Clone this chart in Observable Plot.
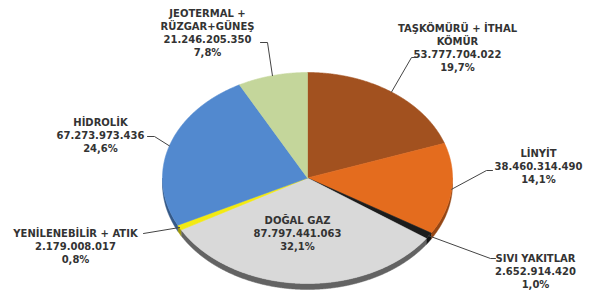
<!DOCTYPE html>
<html><head><meta charset="utf-8">
<script src="https://cdn.jsdelivr.net/npm/d3@7"></script>
<script src="https://cdn.jsdelivr.net/npm/@observablehq/plot@0.6"></script>
<style>body{margin:0;background:#fff}</style>
</head><body><div id="chart"></div>
<script>
// ---- data ----
const categories = ["TAŞKÖMÜRÜ + İTHAL\nKÖMÜR", "LİNYİT", "SIVI YAKITLAR", "DOĞAL GAZ", "YENİLENEBİLİR + ATIK", "HİDROLİK", "JEOTERMAL +\nRÜZGAR+GÜNEŞ"];
const values = [53777704022, 38460314490, 2652914420, 87797441063, 2179008017, 67273973436, 21246205350];
const colors = ["#A2511F", "#E46C1E", "#1c1c1c", "#D9D9D9", "#F3EA12", "#5289CF", "#C4D69B"];

// ---- layout (pixels) ----
const CX = 307, RX = 145, CY = 177.5, RY = 105.5, DEPTH = 6;
const labelPos = [[457,47],[538,165],[535,270],[297,232],[75,245],[100,134],[207,32]];
const elbows = [[[411,57],[414,57]], [[486,170],[492,170]], [[490,258],[495,258]], null, [[143,233]], [[154,136],[147,136]], [[267,42],[260,42]]];

const ux = px => (px - CX) / RX;
const uy = py => (CY - py) / RY;
const D = DEPTH / RY;

const loc = d3.formatLocale({decimal: ",", thousands: ".", grouping: [3], currency: ["", ""]});
const fmtN = loc.format(",d");
const total = d3.sum(values);
const fmtP = v => loc.format(".1f")(v / total * 100) + "%";

const arcs = d3.pie().sort(null).value(d => d)(values);
const step = 0.005;
function arcPts(a0, a1) {
  const n = Math.max(2, Math.ceil((a1 - a0) / step));
  return d3.range(n + 1).map(k => { const a = a0 + (a1 - a0) * k / n; return [Math.sin(a), Math.cos(a)]; });
}

const tops = [], sides = [], leaders = [], labels = [];
arcs.forEach((p, i) => {
  const c = colors[i];
  const pts = [[0,0], ...arcPts(p.startAngle, p.endAngle), [0,0]];
  pts.forEach(([x,y]) => tops.push({x, y, i, c}));
  const s = Math.max(p.startAngle, Math.PI/2), e = Math.min(p.endAngle, 3*Math.PI/2);
  if (e > s) {
    const sc = d3.color(c).darker(i === 3 ? 2.2 : 1.2).formatHex();
    const a = arcPts(s, e);
    const poly = [...a, ...a.slice().reverse().map(([x,y]) => [x, y - D])];
    poly.forEach(([x,y]) => sides.push({x, y, i, c: sc}));
  }
  const mid = (p.startAngle + p.endAngle) / 2;
  if (elbows[i]) {
    leaders.push({x: Math.sin(mid), y: Math.cos(mid), i});
    elbows[i].forEach(([px,py]) => leaders.push({x: ux(px), y: uy(py), i}));
  }
  labels.push({x: ux(labelPos[i][0]), y: uy(labelPos[i][1]),
    text: categories[i] + "\n" + fmtN(values[i]) + "\n" + fmtP(values[i])});
});

const chart = Plot.plot({
  width: 598, height: 293, margin: 0,
  x: {domain: [-1, 1], range: [CX - RX, CX + RX], axis: null},
  y: {domain: [-1, 1], range: [CY + RY, CY - RY], axis: null},
  color: {type: "identity"},
  style: {background: "#fff"},
  marks: [
    Plot.line(sides, {x: "x", y: "y", z: "i", fill: "c", stroke: "c", strokeWidth: 0.5}),
    Plot.line(tops, {x: "x", y: "y", z: "i", fill: "c", stroke: "c", strokeWidth: 0.6}),
    Plot.line(leaders, {x: "x", y: "y", z: "i", stroke: "#444", strokeWidth: 1}),
    Plot.text(labels, {x: "x", y: "y", text: "text", fill: "#333", fontSize: 10, fontWeight: "bold",
      fontFamily: "DejaVu Sans", lineHeight: 1.3, textAnchor: "middle", lineAnchor: "middle"})
  ]
});
document.getElementById("chart").append(chart);
</script>
</body></html>
